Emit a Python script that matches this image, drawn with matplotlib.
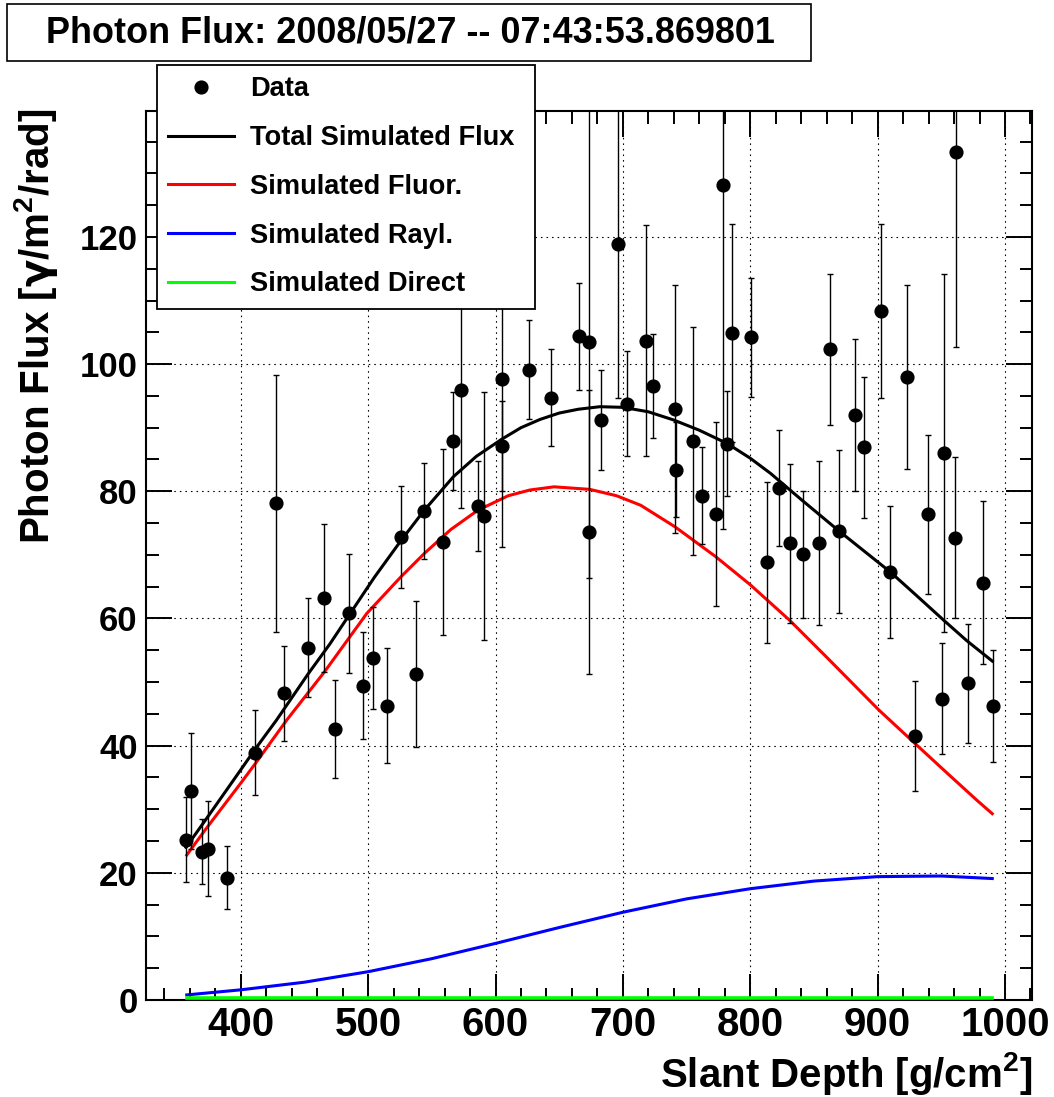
import matplotlib
matplotlib.use('Agg')
import matplotlib.pyplot as plt
from matplotlib.ticker import MultipleLocator
from matplotlib.patches import Rectangle
from matplotlib.lines import Line2D

plt.rcParams['font.family'] = ['Liberation Sans', 'DejaVu Sans']
plt.rcParams['font.weight'] = 'bold'
plt.rcParams['mathtext.fontset'] = 'custom'
plt.rcParams['mathtext.rm'] = 'Liberation Sans:bold'
plt.rcParams['mathtext.bf'] = 'Liberation Sans:bold'
plt.rcParams['mathtext.it'] = 'Liberation Sans:bold:italic'
plt.rcParams['mathtext.sf'] = 'DejaVu Sans:bold'

# ---------------- data ----------------
data_x = [356.8, 361.0, 369.8, 374.0, 389.2, 411.5, 427.5, 434.3, 452.6, 465.7,
          474.1, 485.3, 496.3, 504.2, 514.7, 525.9, 537.2, 544.2, 558.9, 566.5,
          572.8, 585.9, 590.6, 605.2, 605.0, 626.5, 643.8, 665.2, 673.6, 673.6,
          683.0, 696.1, 703.2, 717.9, 723.6, 740.6, 741.7, 755.3, 762.1, 773.1,
          778.9, 781.8, 786.0, 800.3, 812.9, 822.3, 831.3, 841.2, 854.3, 862.9,
          870.0, 882.0, 889.1, 902.7, 910.0, 922.9, 929.4, 939.9, 950.9, 952.5,
          960.6, 961.4, 970.8, 982.6, 990.4]
data_y = [25.2, 32.9, 23.3, 23.8, 19.2, 38.9, 78.1, 48.2, 55.4, 63.2,
          42.6, 60.8, 49.4, 53.8, 46.3, 72.8, 51.3, 76.9, 72.0, 87.9,
          96.0, 77.7, 76.1, 97.6, 87.1, 99.1, 94.7, 104.4, 103.5, 73.6,
          91.2, 118.9, 93.8, 103.7, 96.5, 93.0, 83.4, 87.9, 79.3, 76.4,
          128.1, 87.5, 104.9, 104.2, 68.8, 80.5, 71.8, 70.1, 71.9, 102.3,
          73.7, 92.0, 86.9, 108.4, 67.3, 98.0, 41.5, 76.4, 47.4, 86.0,
          72.7, 133.3, 49.8, 65.6, 46.2]
data_err = [6.7, 9.1, 5.1, 7.5, 4.95, 6.7, 20.2, 7.4, 7.75, 11.6,
            7.7, 9.4, 8.4, 8.0, 9.0, 8.0, 11.5, 7.5, 14.6, 7.7,
            18.7, 7.05, 19.5, 26.3, 7.1, 7.8, 7.6, 8.4, 37.2, 22.3,
            7.9, 24.2, 8.3, 18.2, 8.2, 19.5, 7.5, 17.9, 7.6, 14.5,
            54.0, 8.2, 17.1, 9.4, 12.7, 9.1, 12.5, 10.0, 12.9, 11.9,
            12.85, 12.0, 11.1, 13.7, 10.4, 14.5, 8.6, 12.5, 8.75, 28.1,
            12.7, 30.6, 9.35, 12.8, 8.8]

total_x = [357, 373, 400, 411.5, 428, 452.6, 470, 485.3, 505, 526, 544, 567, 585,
           605, 620, 635, 650, 665, 682, 700, 720, 740, 760, 782, 800, 816, 840,
           870, 890, 910, 930, 952, 970, 990]
total_y = [24.0, 28.5, 36.2, 39.5, 44.0, 51.2, 56.0, 60.6, 66.5, 72.3, 77.0, 82.3, 85.5,
           88.2, 90.0, 91.3, 92.3, 92.9, 93.3, 93.2, 92.5, 91.2, 89.6, 87.5, 85.2, 82.8, 78.7,
           73.7, 70.5, 67.3, 63.7, 59.7, 56.5, 53.3]

fluor_x = [357.6, 373, 400, 411.5, 436, 465.7, 499, 526, 544, 565, 586, 610, 627,
           646, 674, 695, 714, 741, 773, 800, 831, 860, 901, 929, 955, 978, 990]
fluor_y = [22.8, 27.0, 34.1, 37.2, 44.0, 51.6, 60.8, 66.6, 70.2, 74.0, 77.0, 79.3, 80.2,
           80.7, 80.3, 79.3, 77.8, 74.4, 69.7, 65.3, 59.7, 53.9, 45.6, 40.4, 35.6, 31.4, 29.3]

rayl_x = [357.6, 400, 450, 500, 550, 600, 650, 700, 750, 800, 850, 900, 950, 990]
rayl_y = [0.8, 1.6, 2.8, 4.45, 6.5, 8.9, 11.4, 13.8, 15.9, 17.5, 18.7, 19.4, 19.5, 19.1]

direct_x = [357.6, 500, 700, 900, 990]
direct_y = [0.3, 0.3, 0.3, 0.3, 0.3]

legend_labels = ['Data', 'Total Simulated Flux', 'Simulated Fluor.',
                 'Simulated Rayl.', 'Simulated Direct']
title_text = 'Photon Flux: 2008/05/27 -- 07:43:53.869801'
x_ticks = [400, 500, 600, 700, 800, 900, 1000]
y_ticks = [0, 20, 40, 60, 80, 100, 120]

# ---------------- figure ----------------
W, H = 1054, 1097
fig = plt.figure(figsize=(W / 100, H / 100), dpi=100)
ax = fig.add_axes([146 / W, 1 - 1000 / H, 886 / W, 889 / H])

ax.set_xlim(325.6, 1021.2)
ax.set_ylim(0, 139.8)

ax.plot(total_x, total_y, color='black', lw=2.2, zorder=3)
ax.plot(fluor_x, fluor_y, color='#ff0000', lw=2.2, zorder=3)
ax.plot(rayl_x, rayl_y, color='#0000ff', lw=2.2, zorder=3)
ax.plot(direct_x, direct_y, color='#00ff00', lw=2.6, zorder=3)

ax.errorbar(data_x, data_y, yerr=data_err, fmt='o', color='black', ms=9.2,
            elinewidth=1.0, capsize=2.3, capthick=1.0, zorder=4)

ax.set_xticks(x_ticks)
ax.set_yticks(y_ticks)
ax.xaxis.set_minor_locator(MultipleLocator(20))
ax.yaxis.set_minor_locator(MultipleLocator(5))
ax.tick_params(which='both', direction='in', top=True, right=True, width=1.4,
               colors='black')
ax.tick_params(which='major', length=18.5)
ax.tick_params(which='minor', length=9)
ax.tick_params(axis='x', which='major', labelsize=29, pad=4)
ax.tick_params(axis='y', which='major', labelsize=25, pad=6)
for sp in ax.spines.values():
    sp.set_linewidth(1.5)

ax.grid(True, which='major', color='black', linestyle=(0, (1.4, 3.6)), lw=0.8)
ax.set_axisbelow(True)

ax.set_xlabel(r'Slant Depth [g/cm$^{2}$]', fontsize=29, fontweight='bold', loc='right')
ax.xaxis.set_label_coords(1.0, -0.056)
ax.set_ylabel(r'Photon Flux [$\mathsf{\gamma}$/m$^{2}$/rad]', fontsize=29,
              fontweight='bold', loc='top')
ax.yaxis.set_label_coords(-0.097, 1.003)

# legend
handles = [Line2D([], [], ls='none', marker='o', color='black', ms=9.2),
           Line2D([], [], color='black', lw=2.2),
           Line2D([], [], color='#ff0000', lw=2.2),
           Line2D([], [], color='#0000ff', lw=2.2),
           Line2D([], [], color='#00ff00', lw=2.2)]
leg = fig.legend(handles, legend_labels, loc='upper left',
                 bbox_to_anchor=(157 / W, 1 - 308 / H, (535 - 157) / W, (308 - 65) / H),
                 mode='expand', borderaxespad=0, handlelength=2.4,
                 handletextpad=0.6, labelspacing=0.835, borderpad=0.42,
                 frameon=True, fancybox=False, framealpha=1, edgecolor='black',
                 prop={'weight': 'bold', 'size': 19.6})
leg.get_frame().set_linewidth(1.3)

# title box
fig.patches.append(Rectangle((7 / W, 1 - 61 / H), (811 - 7) / W, (61 - 4) / H,
                             transform=fig.transFigure, facecolor='white',
                             edgecolor='black', lw=1.2))
fig.text(410 / W, 1 - 33 / H, title_text, ha='center', va='center',
         fontsize=25.9, fontweight='bold')

fig.savefig('out.png', dpi=100)
